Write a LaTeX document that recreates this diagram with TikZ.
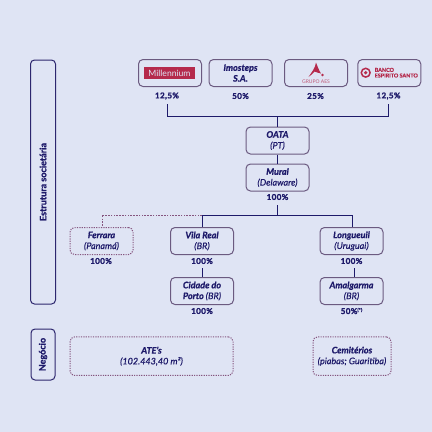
\documentclass[tikz,border=0pt]{standalone}
\usepackage{fontspec}
\setmainfont{Lato}[BoldFeatures={FakeBold=1},BoldItalicFeatures={FakeBold=1}]
\newfontfamily\pctf[BoldFeatures={FakeBold=1.6,LetterSpace=5}]{Lato}
\newfontfamily\subf[ItalicFeatures={FakeBold=0.6}]{Lato}
\newcommand{\subt}[1]{{\subf\mdseries\itshape #1}}
\definecolor{bgc}{HTML}{DFE4F4}
\definecolor{navy}{HTML}{1E1A6A}
\definecolor{edgec}{HTML}{6B5A80}
\definecolor{dashc}{HTML}{85557F}
\definecolor{logoc}{HTML}{B52A4C}
\tikzset{
  x=1pt,y=-1pt,
  boxed/.style={draw=edgec,line width=1pt,rounded corners=4.5pt,minimum width=#1,minimum height=27pt,inner sep=0pt,align=center,text=navy,font=\fontsize{9}{10.8}\selectfont\bfseries\itshape},
  boxed/.default=63pt,
  dashbox/.style={boxed=#1,draw=dashc,line width=1pt,dash pattern=on 1.2pt off 1.2pt},
  sidebox/.style={draw=navy!80!edgec,line width=1pt,rounded corners=4pt,inner sep=0pt},
  sidetext/.style={text=navy,font=\fontsize{9}{10}\selectfont\bfseries,rotate=90,inner sep=0pt},
  pct/.style={text=navy,font=\fontsize{8}{9}\selectfont\pctf\bfseries,inner sep=0pt},
  link/.style={draw=navy,line width=.9pt},
  dashlink/.style={draw=dashc,line width=.9pt,dash pattern=on 1.6pt off 1.2pt},
}
\begin{document}
\begin{tikzpicture}
\useasboundingbox (0,0) rectangle (432,432);
\fill[bgc] (0,0) rectangle (432,432);
% side boxes
\node[sidebox,minimum width=25pt,minimum height=244pt] (estr) at (43,182) {};
\node[sidetext] (estrt) at (43,182) {Estrutura societária};
\node[sidebox,minimum width=24pt,minimum height=51pt] (neg) at (43,354.5) {};
\node[sidetext] (negt) at (43,354.5) {Negócio};
% shareholders
\node[boxed] (mil) at (170,73) {};
\node[fill=logoc,minimum width=51pt,minimum height=12.5pt,inner sep=0pt,text=bgc,font=\fontsize{8.6}{8.6}\selectfont] (millogo) at (169.5,73) {Millennium};
\node[boxed] (imo) at (240.5,73) {Imosteps\\S.A.};
\node[boxed] (grp) at (316,73) {};
\fill[logoc] (316,62.5) .. controls (317.5,66) and (318.5,69.5) .. (321,73.5) .. controls (318,73) and (316,72) .. (314.5,71.5) .. controls (313,73) and (311,75.5) .. (308.5,77) .. controls (311,73) and (315.5,68) .. (316,62.5) -- cycle;
\fill[logoc] (322.5,75) circle (1.3pt);
\node[text=logoc!75!bgc,font=\fontsize{5}{5}\selectfont,inner sep=0pt] (grptxt) at (316,82) {GRUPO AES};
\node[boxed] (bes) at (389.3,73) {};
\draw[logoc,line width=1.5pt] (365.7,72.7) circle (4.4pt);
\fill[logoc] (365.7,72.7) circle (1.8pt);
\node[text=logoc,font=\fontsize{5.4}{5.6}\selectfont\bfseries,align=left,inner sep=0pt,anchor=west] (bestxt) at (374.5,72.7) {BANCO\\ESPIRITO SANTO};
\node[pct] (p1) at (167,96) {12,5\%};
\node[pct] (p2) at (240.5,96) {50\%};
\node[pct] (p3) at (315.5,96) {25\%};
\node[pct] (p4) at (388.5,96) {12,5\%};
% holding
\node[boxed] (oata) at (277.5,140.5) {OATA\\\subt{(PT)}};
\node[boxed] (mural) at (277.5,177.5) {Mural\\\subt{(Delaware)}};
\node[pct] (p5) at (277.5,197) {100\%};
% subsidiaries
\node[dashbox=63pt] (fer) at (101.5,241) {Ferrara\\\subt{(Panamá)}};
\node[boxed] (vila) at (202,241) {Vila Real\\\subt{(BR)}};
\node[boxed] (lon) at (351.5,241) {Longueuil\\\subt{(Uruguai)}};
\node[pct] (p6) at (101,261) {100\%};
\node[pct] (p7) at (202,261) {100\%};
\node[pct] (p8) at (351.5,261) {100\%};
\node[boxed] (cid) at (202,291) {Cidade do\\Porto \subt{(BR)}};
\node[boxed] (ama) at (351.5,291) {Amalgarma\\\subt{(BR)}};
\node[pct] (p9) at (202,311) {100\%};
\node[pct] (p10) at (351.5,311) {50\%\raisebox{2.5pt}{\fontsize{4.5}{4.5}\selectfont(*)}};
% business
\node[dashbox=163pt,minimum height=38.5pt] (ate) at (151.5,356.2) {ATE's\\\subt{(102.443,40 m²)}};
\node[dashbox=78pt,minimum height=38.5pt] (cem) at (352,356.2) {Cemitérios\\\subt{(piabas; Guaritiba)}};
% connectors
\coordinate (t1) at (167.5,104);
\coordinate (t4) at (388,104);
\coordinate (j1) at (167.5,116.5);
\coordinate (j2) at (388,116.5);
\coordinate (j3) at (277.5,116.5);
\draw[link] (t1) -- (j1) -- (j2) -- (t4);
\draw[link] (j3) -- (oata.north);
\draw[link] (oata) -- (mural);
\coordinate (m1) at (277.5,205);
\coordinate (m2) at (277.5,215);
\coordinate (v1) at (202,215);
\coordinate (l1) at (352,215);
\coordinate (f1) at (102,215);
\draw[link] (m1) -- (m2);
\draw[link] (v1) -- (l1) -- (l1 |- lon.north);
\draw[link] (v1) -- (vila.north);
\draw[dashlink] (v1) -- (f1) -- (f1 |- fer.north);
\coordinate (c1) at (202,268);
\draw[link] (c1) -- (cid.north);
\coordinate (c2) at (354.5,268);
\draw[link] (c2) -- (c2 |- ama.north);
\end{tikzpicture}
\end{document}
